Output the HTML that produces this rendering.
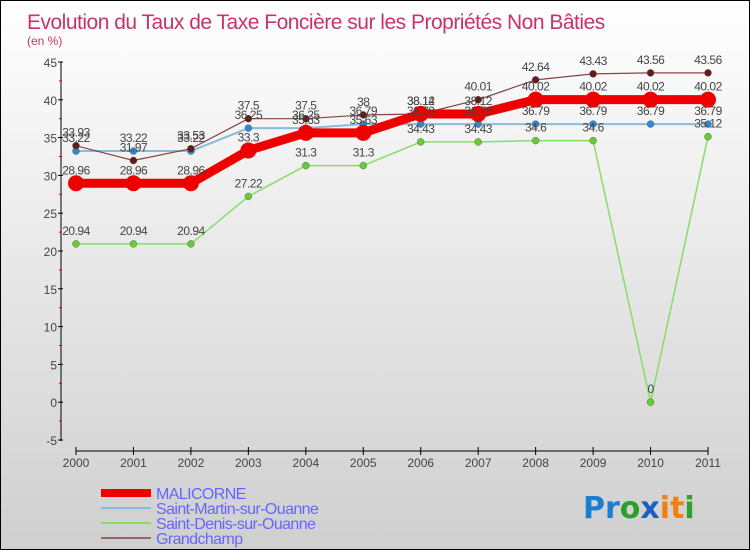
<!DOCTYPE html>
<html><head><meta charset="utf-8"><style>
html,body{margin:0;padding:0}
body{width:750px;height:550px;overflow:hidden;font-family:"Liberation Sans",sans-serif}
#wrap{position:relative;width:748px;height:548px;border:1px solid #000;background:linear-gradient(#ffffff,#cfcfcf)}
</style></head><body>
<div id="wrap">
<svg id="chart" width="748" height="548" style="position:absolute;left:0;top:0">
<text x="26" y="28" font-size="21" fill="#c8346a" style="letter-spacing:-0.5px">Evolution du Taux de Taxe Foncière sur les Propriétés Non Bâties</text>
<text x="26" y="44" font-size="12" fill="#c8346a">(en %)</text>
<g id="axes"></g><g id="series"></g><g id="labels"></g>
<g id="legend"></g>
<text x="582" y="517" font-size="30" font-weight="bold" style="font-family:'DejaVu Sans',sans-serif"><tspan fill="#1a7fd0">Pr</tspan><tspan fill="#2aa02a">o</tspan><tspan fill="#1a60c0">x</tspan><tspan fill="#f08010">it</tspan><tspan fill="#30a030">i</tspan></text>
</svg>
</div>
<script>
const years=["2000","2001","2002","2003","2004","2005","2006","2007","2008","2009","2010","2011"];
const malicorne=[28.96,28.96,28.96,33.3,35.63,35.63,38.14,38.12,40.02,40.02,40.02,40.02];
const saintMartin=[33.22,33.22,33.22,36.25,36.25,36.79,36.79,36.79,36.79,36.79,36.79,36.79];
const saintDenis=[20.94,20.94,20.94,27.22,31.3,31.3,34.43,34.43,34.6,34.6,0,35.12];
const grandchamp=[33.93,31.97,33.53,37.5,37.5,38,38.12,40.01,42.64,43.43,43.56,43.56];
const yTicks=[-5,0,5,10,15,20,25,30,35,40,45];
const NS="http://www.w3.org/2000/svg";
function X(i){return 75+i*(707-75)/(years.length-1);}
function Y(v){return 439-(v+5)*(439-61)/50;}
function mk(tag,attrs,parent){const e=document.createElementNS(NS,tag);for(const k in attrs)e.setAttribute(k,attrs[k]);parent.appendChild(e);return e;}
const ax=document.getElementById('axes');
let yl=mk('line',{x1:60,y1:61,x2:60,y2:440,stroke:'#000','stroke-width':1},ax);

yTicks.forEach(t=>{
 mk('line',{x1:57,y1:Y(t),x2:62,y2:Y(t),stroke:'#000'},ax);
 if(t<45) mk('line',{x1:58,y1:Y(t+2.5),x2:61,y2:Y(t+2.5),stroke:'#e00'},ax);
 const tx=mk('text',{x:56,y:Y(t)+5,'font-size':12,fill:'#444','text-anchor':'end'},ax);tx.textContent=t;
 
});
let xl=mk('line',{x1:X(0),y1:450,x2:X(11),y2:450,stroke:'#000'},ax);

years.forEach((y,i)=>{
 mk('line',{x1:X(i),y1:446,x2:X(i),y2:454,stroke:'#000'},ax);
 const tx=mk('text',{x:X(i),y:466,'font-size':12,fill:'#444','text-anchor':'middle'},ax);tx.textContent=y;
 
});
const series=[
 {name:'saint-denis',data:saintDenis,color:'#88dd66',dot:'#66cc33',w:1.5,r:3.5},
 {name:'saint-martin',data:saintMartin,color:'#88bbdd',dot:'#3388cc',w:2,r:3.5},
 {name:'grandchamp',data:grandchamp,color:'#884444',dot:'#661a1a',w:1.2,r:3.5},
 {name:'malicorne',data:malicorne,color:'#ee0000',dot:'#ee0000',w:9,r:8}
];
const sg=document.getElementById('series'),lg=document.getElementById('labels');
series.forEach(s=>{
 const g=mk('g',{},sg);
 
 const pts=s.data.map((v,i)=>X(i)+','+Y(v)).join(' ');
 const pl=mk('polyline',{points:pts,fill:'none',stroke:s.color,'stroke-width':s.w,'stroke-linejoin':'round'},g);
 
 s.data.forEach((v,i)=>{
  const c=mk('circle',{cx:X(i),cy:Y(v),r:s.r,fill:s.dot,stroke:s.name==='malicorne'?'none':'#555','stroke-width':0.4},g);
  
  const t=mk('text',{x:X(i),y:Y(v)-9,'font-size':12,fill:'#444','text-anchor':'middle','letter-spacing':'-0.5'},lg);
  t.textContent=String(v);
  
 });
});
const leg=document.getElementById('legend');
const items=[['MALICORNE','#ee0000',8],['Saint-Martin-sur-Ouanne','#88bbdd',2],['Saint-Denis-sur-Ouanne','#88dd66',2],['Grandchamp','#996666',2]];
items.forEach((it,k)=>{
 const y=492+k*15;
 const l=mk('line',{x1:100,y1:y,x2:150,y2:y,stroke:it[1],'stroke-width':it[2]},leg);
 
 const t=mk('text',{x:155,y:y+6,'font-size':16,fill:'#6666ff','letter-spacing':'-0.6'},leg);t.textContent=it[0];
 
});
</script>
</body></html>
